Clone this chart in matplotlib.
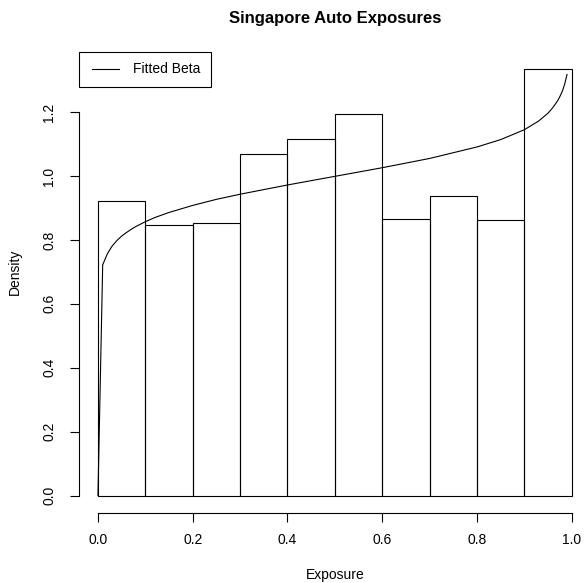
import numpy as np
import matplotlib
matplotlib.use("Agg")
from matplotlib import pyplot as plt
from matplotlib.patches import Rectangle
from matplotlib.lines import Line2D

plt.rcParams['font.family'] = ['Liberation Sans', 'DejaVu Sans']

# histogram of exposures (density scale)
bin_edges = [0.0, 0.1, 0.2, 0.3, 0.4, 0.5, 0.6, 0.7, 0.8, 0.9, 1.0]
densities = [0.922, 0.847, 0.853, 1.069, 1.116, 1.194, 0.865, 0.938, 0.862, 1.336]

# fitted beta curve
curve_x = [0.0, 0.01, 0.02, 0.03, 0.04, 0.05, 0.06, 0.07, 0.08, 0.1, 0.12, 0.15, 0.2,
           0.25, 0.3, 0.4, 0.5, 0.6, 0.7, 0.8, 0.85, 0.9, 0.93, 0.95, 0.96, 0.97,
           0.975, 0.98, 0.985, 0.99]
curve_y = [0.0, 0.722, 0.757, 0.781, 0.798, 0.812, 0.823, 0.833, 0.842, 0.857, 0.870,
           0.886, 0.908, 0.927, 0.943, 0.972, 0.999, 1.026, 1.055, 1.091, 1.114, 1.145,
           1.172, 1.197, 1.214, 1.235, 1.249, 1.265, 1.287, 1.318]

x_ticks = [0.0, 0.2, 0.4, 0.6, 0.8, 1.0]
y_ticks = [0.0, 0.2, 0.4, 0.6, 0.8, 1.0, 1.2]

W, H = 587, 583
fig = plt.figure(figsize=(W / 100, H / 100), dpi=100)

# plot region in pixels (R style, may run past the right edge)
left_px, right_px, top_px, bottom_px = 79.0, 590.7, 32.9, 513.3
ax = fig.add_axes([left_px / W, 1 - bottom_px / H,
                   (right_px - left_px) / W, (bottom_px - top_px) / H])
ax.set_xlim(-0.04, 1.04)
ax.set_ylim(-0.0557, 1.448)

lw = 0.8
ax.bar(bin_edges[:-1], densities, width=0.1, align='edge', fill=False,
       edgecolor='black', linewidth=lw)
ax.plot(curve_x, curve_y, color='black', linewidth=lw)

for side in ['top', 'right']:
    ax.spines[side].set_visible(False)
ax.spines['left'].set_bounds(0, 1.2)
ax.spines['bottom'].set_bounds(0, 1.0)
ax.spines['left'].set_linewidth(lw)
ax.spines['bottom'].set_linewidth(lw)

ax.set_xticks(x_ticks)
ax.set_xticklabels(["%.1f" % v for v in x_ticks])
ax.set_yticks(y_ticks)
ax.set_yticklabels(["%.1f" % v for v in y_ticks], rotation=90, va='center')
ax.tick_params(length=6.5, width=lw, labelsize=10)
ax.tick_params(axis='x', pad=8)
ax.tick_params(axis='y', pad=10)

fig.text(334.8 / W, 1 - 18 / H, "Singapore Auto Exposures", ha='center', va='center',
         fontsize=12, fontweight='bold')
fig.text(334.8 / W, 1 - 575 / H, "Exposure", ha='center', va='center', fontsize=10)
fig.text(15 / W, 1 - 272 / H, "Density", ha='center', va='center', fontsize=10, rotation=90)

# legend box
lx0, lx1, ly0, ly1 = 78.7, 211.3, 51.7, 87.0
fig.patches.append(Rectangle((lx0 / W, 1 - ly1 / H), (lx1 - lx0) / W, (ly1 - ly0) / H,
                             transform=fig.transFigure, fill=False, edgecolor='black',
                             linewidth=lw))
fig.lines.append(Line2D([92 / W, 119.3 / W], [1 - 69.3 / H, 1 - 69.3 / H],
                        transform=fig.transFigure, color='black', linewidth=lw))
fig.text(133 / W, 1 - 69.3 / H, "Fitted Beta", ha='left', va='center', fontsize=10)

fig.savefig("out.png", dpi=100)
